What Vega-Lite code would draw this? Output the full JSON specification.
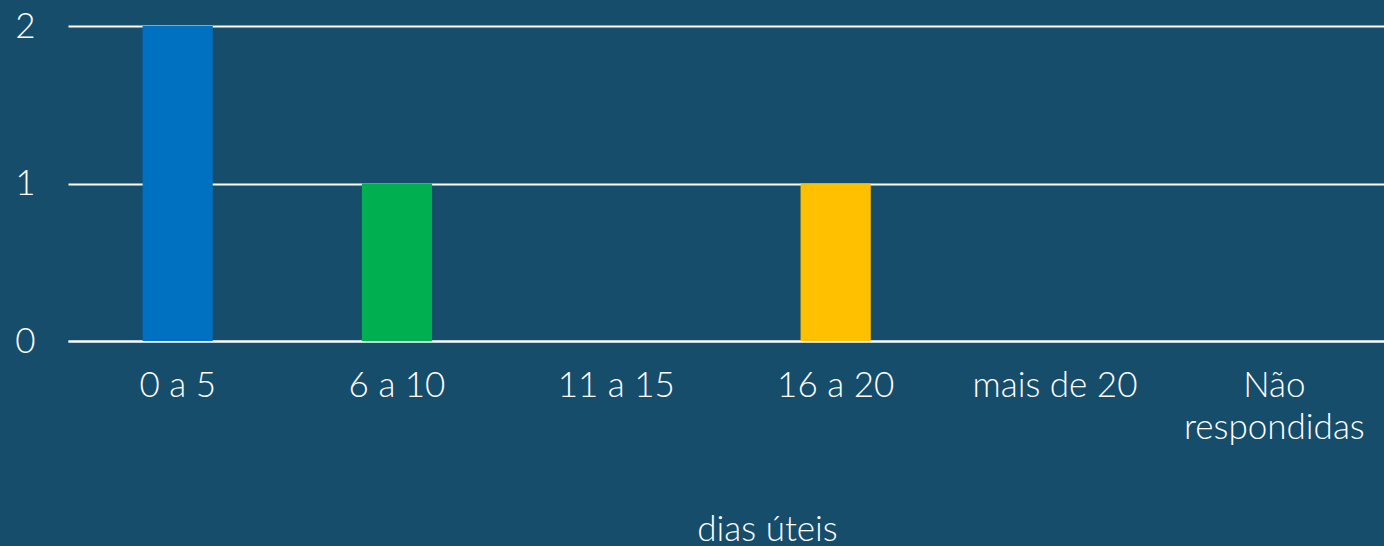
{
  "$schema": "https://vega.github.io/schema/vega-lite/v6.json",
  "width": 1316,
  "height": 315,
  "autosize": {"type": "none"},
  "padding": {"left": 68, "top": 26, "right": 0, "bottom": 205},
  "background": "#164d6b",
  "config": {
    "view": {"stroke": null},
    "font": "Lato"
  },
  "data": {
    "values": [
      {"faixa": "0 a 5", "respostas": 2, "cor": "#0070c0"},
      {"faixa": "6 a 10", "respostas": 1, "cor": "#00b050"},
      {"faixa": "11 a 15", "respostas": 0, "cor": "#7f7f7f"},
      {"faixa": "16 a 20", "respostas": 1, "cor": "#ffc000"},
      {"faixa": "mais de 20", "respostas": 0, "cor": "#7f7f7f"},
      {"faixa": "Não respondidas", "respostas": 0, "cor": "#7f7f7f"}
    ]
  },
  "mark": {"type": "bar"},
  "encoding": {
    "x": {
      "field": "faixa",
      "type": "nominal",
      "sort": null,
      "scale": {"paddingInner": 0.68, "paddingOuter": 0.34},
      "axis": {
        "title": "dias úteis",
        "titleFont": "Lato",
        "titleFontSize": 35,
        "titleFontWeight": 300,
        "titleColor": "#ffffff",
        "titleX": 699,
        "titleY": 199,
        "titleAlign": "center",
        "titleBaseline": "alphabetic",
        "labelAngle": 0,
        "labelFont": "Lato",
        "labelFontSize": 35,
        "labelFontWeight": 300,
        "labelColor": "#ffffff",
        "labelPadding": 27,
        "labelLineHeight": 42,
        "labelLimit": 400,
        "labelExpr": "datum.value == 'Não respondidas' ? ['Não', 'respondidas'] : datum.label",
        "domain": true,
        "domainColor": "#ffffff",
        "domainWidth": 2,
        "ticks": false
      }
    },
    "y": {
      "field": "respostas",
      "type": "quantitative",
      "scale": {"domain": [0, 2]},
      "axis": {
        "title": null,
        "values": [0, 1, 2],
        "labelExpr": "'' + datum.value",
        "labelFont": "Lato",
        "labelFontSize": 35,
        "labelFontWeight": 300,
        "labelColor": "#ffffff",
        "labelPadding": 33,
        "labelOverlap": false,
        "grid": true,
        "gridColor": "#ffffff",
        "gridWidth": 2,
        "domain": false,
        "ticks": false
      }
    },
    "color": {"field": "cor", "type": "nominal", "scale": null, "legend": null}
  }
}
